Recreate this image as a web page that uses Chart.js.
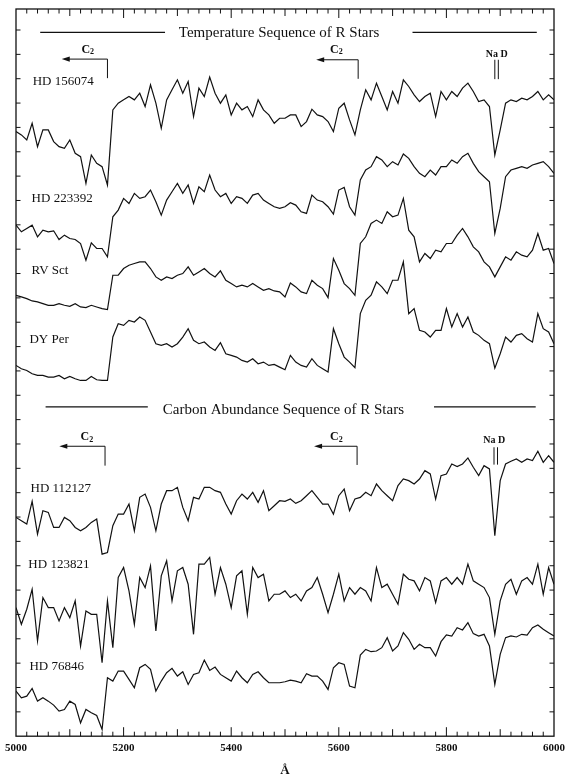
<!DOCTYPE html>
<html>
<head>
<meta charset="utf-8">
<title>Temperature and Carbon Abundance Sequences of R Stars</title>
<script src="https://cdn.jsdelivr.net/npm/chart.js@4.4.1/dist/chart.umd.min.js"></script>
<style>
  html, body { margin: 0; padding: 0; background: #fff; }
  canvas { display: block; }
</style>
</head>
<body>
<canvas id="spectra" width="570" height="779"></canvas>
<script>
// Wavelength grid (Angstrom)
const WAVE = [
  5000,5010,5020,5030,5040,5050,5060,5070,5080,5090,
  5100,5110,5120,5130,5140,5150,5160,5170,5180,5190,
  5200,5210,5220,5230,5240,5250,5260,5270,5280,5290,
  5300,5310,5320,5330,5340,5350,5360,5370,5380,5390,
  5400,5410,5420,5430,5440,5450,5460,5470,5480,5490,
  5500,5510,5520,5530,5540,5550,5560,5570,5580,5590,
  5600,5610,5620,5630,5640,5650,5660,5670,5680,5690,
  5700,5710,5720,5730,5740,5750,5760,5770,5780,5790,
  5800,5810,5820,5830,5840,5850,5860,5870,5880,5890,
  5900,5910,5920,5930,5940,5950,5960,5970,5980,5990,
  6000
];

// Offset fluxes (arbitrary units)
const HD_156074 = [
  181.0,180.0,178.5,183.5,176.5,181.5,181.5,178.0,176.5,176.0,
  178.5,174.5,173.5,165.5,174.0,171.5,170.5,165.0,187.5,189.5,
  190.5,191.5,190.5,192.5,188.5,195.0,189.5,182.0,190.5,193.5,
  196.5,192.5,196.0,185.5,194.0,191.5,197.3,192.5,189.5,192.0,
  186.0,189.5,187.5,188.5,185.5,190.5,187.5,186.0,183.5,185.0,
  185.0,186.0,186.0,182.5,184.0,187.7,186.0,185.5,184.0,181.0,
  188.0,189.5,184.5,180.0,187.5,193.5,190.5,195.5,191.5,187.5,
  193.0,189.5,196.5,194.5,192.0,190.0,191.5,192.5,185.5,193.0,
  190.5,193.0,191.5,194.0,195.5,193.0,190.0,190.5,188.5,174.0,
  181.5,189.5,190.5,190.0,191.0,190.5,191.5,193.0,190.5,192.0,
  190.5
];
const HD_223392 = [
  153.0,151.0,152.0,153.0,149.5,151.5,151.0,151.3,148.7,150.0,
  149.0,148.7,147.5,142.5,147.7,146.0,146.0,143.5,155.5,157.5,
  161.0,159.5,162.5,161.0,161.5,163.5,160.0,156.0,160.5,163.0,
  165.5,162.5,165.0,159.5,164.5,163.0,168.0,163.5,161.5,162.5,
  159.5,161.5,161.0,159.5,162.0,162.5,160.5,159.5,158.5,158.0,
  158.5,159.7,159.0,157.0,156.5,162.0,160.5,160.0,158.5,156.3,
  163.5,164.3,158.5,156.0,166.5,169.5,170.5,173.5,172.5,170.5,
  172.0,171.0,174.3,173.0,170.5,168.5,167.5,169.5,168.0,170.5,
  170.5,172.5,171.5,173.5,174.5,171.5,169.0,167.5,166.0,150.5,
  158.0,167.5,169.5,170.0,170.5,170.0,171.0,171.5,172.0,170.5,
  168.5
];
const RV_SCT = [
  132.0,131.5,131.0,130.3,130.0,129.5,129.0,129.0,129.5,129.0,
  128.7,129.5,128.5,128.3,129.0,128.5,128.0,127.7,138.0,138.0,
  140.0,141.0,141.5,142.0,142.0,140.0,137.5,136.5,137.5,137.0,
  138.0,138.5,140.5,138.0,139.0,140.0,138.5,137.5,139.3,136.5,
  135.5,134.5,135.0,134.5,135.5,134.5,133.5,134.0,133.3,133.0,
  131.5,135.7,134.5,133.0,132.5,136.5,135.0,134.0,131.3,143.0,
  139.5,135.5,134.0,132.0,147.5,149.5,153.5,154.5,153.5,157.0,
  155.5,156.0,161.0,151.5,149.5,142.0,144.5,143.0,145.5,145.0,
  147.5,147.5,150.0,152.0,149.5,146.5,145.0,142.0,140.5,137.5,
  140.5,143.5,142.5,145.0,144.0,143.5,145.5,150.5,145.5,146.0,
  141.5
];
const DY_PER = [
  111.0,110.0,109.5,108.5,108.0,108.0,107.5,107.5,108.0,107.0,
  107.7,107.0,106.5,106.5,107.7,106.7,106.5,106.5,119.5,123.5,
  123.0,124.5,124.0,125.5,124.5,121.0,117.5,117.0,117.5,116.5,
  117.5,119.5,122.0,118.5,117.5,118.0,116.5,115.5,117.8,114.5,
  114.0,113.5,112.5,112.0,113.0,111.5,112.0,111.0,111.3,110.5,
  109.7,114.0,112.0,111.0,110.5,113.0,111.0,110.0,109.0,122.0,
  117.5,113.5,112.0,110.3,126.5,130.5,132.0,136.0,134.5,132.5,
  136.5,136.5,142.0,126.5,128.0,121.5,121.0,119.5,121.5,121.5,
  128.0,122.5,126.5,122.5,125.5,121.0,120.0,118.5,117.5,110.2,
  114.5,119.5,118.0,120.0,120.5,119.0,118.0,126.5,122.0,121.0,
  117.5
];
const HD_112127 = [
  65.5,64.5,63.5,70.3,60.5,67.5,67.0,62.5,62.5,65.5,
  64.5,62.5,61.5,62.5,64.0,65.0,54.5,55.0,63.0,66.5,
  66.5,69.5,61.5,71.5,72.5,68.5,61.5,69.5,73.5,73.5,
  74.5,68.5,64.5,71.5,71.0,74.5,74.5,73.5,73.0,69.5,
  66.5,70.5,72.5,71.0,73.0,70.0,73.5,67.5,69.0,70.5,
  70.3,71.0,69.7,70.5,72.0,73.5,71.5,69.5,69.5,66.5,
  72.0,74.0,67.5,71.0,71.5,73.0,72.0,75.5,73.5,72.0,
  70.5,75.0,77.0,76.5,75.5,77.0,79.5,78.5,71.0,78.0,
  78.5,81.5,80.7,81.5,83.3,80.5,78.0,81.0,80.0,60.0,
  76.5,81.5,82.3,83.0,82.0,83.0,82.5,85.3,82.0,84.0,
  82.0
];
const HD_123821 = [
  38.5,33.5,38.0,44.0,28.5,41.5,38.5,38.5,34.5,38.5,
  35.5,40.5,27.0,37.5,36.5,36.5,22.0,40.5,26.5,47.5,
  50.5,43.5,33.5,47.5,44.5,51.0,31.5,48.0,52.5,40.5,
  49.5,50.5,45.5,30.5,51.5,51.5,53.5,42.5,50.5,45.5,
  38.5,48.0,49.5,36.5,50.5,47.5,48.5,40.5,42.5,42.5,
  43.5,41.5,42.5,40.5,43.5,44.5,47.5,42.5,37.0,42.5,
  48.5,40.5,44.5,42.5,44.5,43.5,40.5,50.5,44.5,45.5,
  42.5,39.5,48.5,47.0,46.5,43.5,47.5,46.5,40.0,46.5,
  47.5,45.5,47.5,45.5,51.5,46.5,45.5,44.5,41.5,30.5,
  40.5,45.5,47.0,42.5,46.5,47.5,45.5,51.5,42.5,50.5,
  45.5
];
const HD_76846 = [
  13.5,11.5,12.0,14.3,10.5,11.5,10.5,9.3,7.5,8.0,
  10.5,9.5,4.0,8.0,7.0,6.2,2.0,17.5,16.5,19.5,
  19.5,17.0,14.5,20.5,21.5,20.0,13.5,16.5,19.0,20.3,
  18.0,19.3,15.5,18.5,19.0,22.8,19.7,20.7,18.5,17.5,
  16.5,19.5,17.5,16.0,18.5,19.3,17.5,16.0,16.0,16.0,
  16.3,16.8,16.5,16.0,18.7,18.0,18.0,16.5,14.0,20.5,
  22.0,21.5,15.0,14.5,24.3,26.0,25.3,25.5,26.5,29.5,
  25.5,27.0,31.0,29.0,26.0,27.5,26.5,26.5,24.0,28.3,
  30.3,30.0,32.5,31.8,34.0,30.7,30.0,30.5,27.0,15.5,
  24.5,29.5,30.0,29.7,30.5,30.3,32.5,33.3,32.0,31.0,
  30.0
];

const STARS = ['HD 156074', 'HD 223392', 'RV Sct', 'DY Per', 'HD 112127', 'HD 123821', 'HD 76846'];
const SERIES = [HD_156074, HD_223392, RV_SCT, DY_PER, HD_112127, HD_123821, HD_76846];

// axis
const X_MIN = 5000, X_MAX = 6000, X_LABEL_STEP = 200;
const Y_MIN = 0, Y_MAX = 217.7, Y_TICK_STEP = 7.29;

// star label anchors (wavelength, flux)
const LABEL_AT = [
  [5031, 196.0], [5029, 161.0], [5029, 139.5], [5025, 118.7],
  [5027, 74.0], [5023, 51.5], [5025, 20.7]
];

// section headings, C2 band heads and Na D marks
const SECTIONS = [
  { text: 'Temperature Sequence of R Stars', at: [5489, 210.6], rules: [[5045, 5277], [5737, 5968]], ruleY: 210.7,
    c2: [{ head: 5170, tail: 5085, top: 202.7, bot: 197.0, lbl: 5134 }, { head: 5636, tail: 5558, top: 202.5, bot: 196.8, lbl: 5596 }],
    c2Y: 205.6, naD: { lbl: 5893.5, lblY: 204.0, lines: [5890, 5896.5], top: 202.5, bot: 196.7 } },
  { text: 'Carbon Abundance Sequence of R Stars', at: [5497, 97.7], rules: [[5055, 5245], [5777, 5966]], ruleY: 98.6,
    c2: [{ head: 5165.5, tail: 5080.5, top: 86.8, bot: 81.0, lbl: 5132.5 }, { head: 5634, tail: 5554, top: 86.8, bot: 81.2, lbl: 5596 }],
    c2Y: 89.6, naD: { lbl: 5889, lblY: 88.5, lines: [5888.5, 5895], top: 86.5, bot: 81.3 } }
];

const SERIF = '"Liberation Serif", "Times New Roman", Times, serif';
Chart.defaults.font.family = SERIF;
Chart.defaults.color = '#111';

const datasets = SERIES.map((vals, i) => ({
  label: STARS[i],
  data: WAVE.map((w, j) => ({ x: w, y: vals[j] })),
  borderColor: '#111',
  borderWidth: 1.2,
  pointRadius: 0,
  tension: 0,
  fill: false
}));

const decorations = {
  id: 'decorations',
  afterDraw(chart) {
    const { ctx, chartArea: a, scales: { x, y } } = chart;
    const X = w => x.getPixelForValue(w);
    const Y = v => y.getPixelForValue(v);
    const seg = (x1, y1, x2, y2) => { ctx.beginPath(); ctx.moveTo(x1, y1); ctx.lineTo(x2, y2); ctx.stroke(); };

    ctx.save();
    ctx.strokeStyle = '#111';
    ctx.fillStyle = '#111';

    // frame
    ctx.lineWidth = 1.3;
    ctx.strokeRect(a.left, a.top, a.right - a.left, a.bottom - a.top);

    // inward ticks
    ctx.lineWidth = 1;
    for (let w = X_MIN + 20; w < X_MAX; w += 20) {
      const len = w % 200 === 0 ? 9 : w % 100 === 0 ? 7 : 4.5;
      seg(X(w), a.bottom, X(w), a.bottom - len);
      seg(X(w), a.top, X(w), a.top + len);
    }
    for (let v = Y_MIN + Y_TICK_STEP; v < Y_MAX - 1; v += Y_TICK_STEP) {
      seg(a.left, Y(v), a.left + 4.5, Y(v));
      seg(a.right, Y(v), a.right - 4.5, Y(v));
    }

    // star labels
    ctx.textBaseline = 'middle';
    ctx.textAlign = 'left';
    ctx.font = '13px ' + SERIF;
    STARS.forEach((s, i) => ctx.fillText(s, X(LABEL_AT[i][0]), Y(LABEL_AT[i][1])));

    SECTIONS.forEach(sec => {
      // heading and rules
      ctx.font = '15px ' + SERIF;
      ctx.textAlign = 'center';
      ctx.fillText(sec.text, X(sec.at[0]), Y(sec.at[1]));
      ctx.lineWidth = 1.3;
      sec.rules.forEach(r => seg(X(r[0]), Y(sec.ruleY), X(r[1]), Y(sec.ruleY)));

      // C2 band heads
      ctx.lineWidth = 1;
      sec.c2.forEach(c => {
        const hx = X(c.head), tx = X(c.tail), ty = Y(c.top);
        seg(hx, Y(c.bot), hx, ty);
        seg(hx, ty, tx + 5, ty);
        ctx.beginPath();
        ctx.moveTo(tx, ty);
        ctx.lineTo(tx + 8, ty - 2.6);
        ctx.lineTo(tx + 8, ty + 2.6);
        ctx.closePath();
        ctx.fill();
        const lx = X(c.lbl), ly = Y(sec.c2Y);
        ctx.font = 'bold 12px ' + SERIF;
        ctx.textAlign = 'right';
        ctx.fillText('C', lx + 2, ly);
        ctx.font = 'bold 8px ' + SERIF;
        ctx.textAlign = 'left';
        ctx.fillText('2', lx + 2, ly + 3);
      });

      // Na D doublet
      const n = sec.naD;
      ctx.font = 'bold 10px ' + SERIF;
      ctx.textAlign = 'center';
      ctx.fillText('Na D', X(n.lbl), Y(n.lblY));
      n.lines.forEach(w => seg(X(w), Y(n.top), X(w), Y(n.bot)));
    });

    ctx.restore();
  }
};

new Chart(document.getElementById('spectra'), {
  type: 'line',
  data: { datasets },
  options: {
    responsive: false,
    animation: false,
    layout: { padding: { left: 16, right: 16, top: 9, bottom: 0 } },
    plugins: { legend: { display: false }, tooltip: { enabled: false } },
    scales: {
      x: {
        type: 'linear',
        min: X_MIN,
        max: X_MAX,
        grid: { display: false, drawTicks: false },
        border: { display: false },
        ticks: {
          stepSize: X_LABEL_STEP,
          padding: 5,
          maxRotation: 0,
          font: { size: 11, weight: 'bold' },
          color: '#111',
          callback: v => String(v)
        },
        title: { display: true, text: 'Å', font: { size: 13, weight: 'bold' }, color: '#111', padding: { top: 3, bottom: 1 } }
      },
      y: { display: false, min: Y_MIN, max: Y_MAX }
    }
  },
  plugins: [decorations]
});
</script>
</body>
</html>
